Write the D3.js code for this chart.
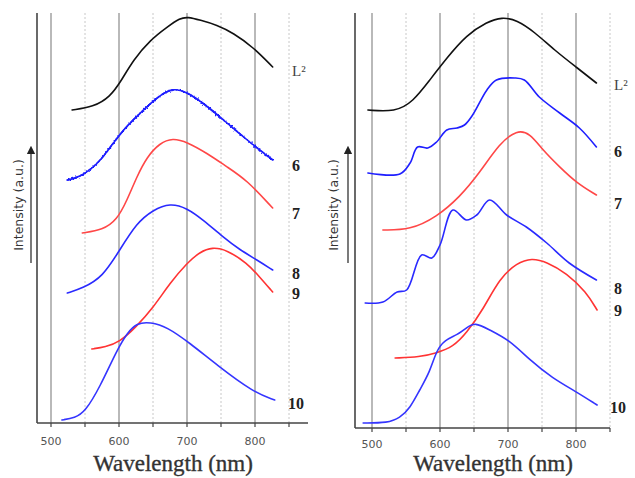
<!DOCTYPE html>
<html lang="en">
<head>
<meta charset="UTF-8">
<title>Emission spectra</title>
<style>
  body { margin: 0; background: #fff; }
  .grid line.major { stroke: #a8a8a8; stroke-width: 1.6; }
  .grid line.minor { stroke: #c8c8c8; stroke-width: 1; stroke-dasharray: 2,2; }
  .axis path, .axis line { stroke: #444; stroke-width: 1.6; fill: none; }
  .axis text { font: 11px "DejaVu Sans", sans-serif; fill: #555; }
  .title { font: 23px "Liberation Serif", serif; fill: #333; stroke: #333; stroke-width: 0.35; }
  .ylab { font: 12.5px "DejaVu Sans", sans-serif; fill: #333; }
  .curve { fill: none; stroke-width: 1.6; stroke-linejoin: round; stroke-linecap: round; }
  .lab { font: bold 16px "Liberation Serif", serif; fill: #222; }
  .lab.l2 { font-weight: normal; font-size: 15px; fill: #444; }
</style>
</head>
<body>
<svg width="635" height="478"></svg>
<script src="https://d3js.org/d3.v7.min.js"></script>
<script>
// x ticks (nm)
var majorTicks = [500, 600, 700, 800];
var minorTicks = [550, 650, 750, 850];
var seriesNames = ["L²", "6", "7", "8", "9", "10"];

// left panel spectra: [wavelength nm, intensity a.u.]
var leftL2 = [[531,31.3],[562,31.6],[587,32.6],[604,34.3],[621,36.3],[646,38.3],[671,39.6],[690,40.5],[701,40.6],[719,40.3],[744,39.8],[768,39.0],[797,37.6],[826,35.6]];
var left6  = [[524,24.3],[543,24.6],[572,26.0],[601,29.0],[631,31.0],[660,32.8],[679,33.5],[700,33.1],[724,32.0],[759,30.0],[788,28.3],[826,26.3]];
var left7  = [[546,19.0],[576,19.3],[597,20.3],[612,22.3],[626,24.6],[641,26.6],[660,28.0],[679,28.5],[700,28.1],[729,27.0],[759,25.6],[788,24.3],[826,21.5]];
var left8  = [[524,13.0],[547,13.5],[576,14.6],[601,17.3],[626,20.0],[650,21.3],[675,22.0],[700,21.5],[724,20.3],[753,18.6],[778,17.3],[803,16.3],[826,15.3]];
var left9  = [[560,7.4],[580,7.6],[601,8.1],[625,9.6],[650,11.5],[675,14.0],[700,16.0],[719,17.1],[737,17.6],[759,17.3],[788,16.0],[807,14.6],[826,13.1]];
var left10 = [[516,0.3],[535,0.5],[550,1.1],[572,3.6],[597,7.3],[612,9.0],[626,10.0],[646,10.1],[671,9.6],[704,8.0],[744,5.8],[797,3.1],[829,2.3]];

// right panel spectra
var rightL2 = [[494,31.8],[534,31.6],[560,32.6],[585,34.8],[610,37.0],[639,39.3],[669,40.6],[691,41.1],[713,40.8],[739,39.6],[768,37.8],[802,36.0],[830,34.5]];
var right6  = [[494,25.5],[541,25.4],[556,26.5],[567,28.1],[582,28.0],[595,28.6],[610,29.8],[625,30.0],[636,30.3],[648,31.3],[669,33.8],[683,34.8],[710,35.0],[724,34.8],[746,33.1],[776,31.5],[805,30.0],[830,28.1]];
var right7  = [[516,19.8],[556,19.8],[595,21.1],[629,23.1],[658,25.5],[688,28.5],[713,29.8],[732,29.5],[751,27.8],[776,26.1],[801,24.5],[830,23.3]];
var right8  = [[490,12.5],[516,12.6],[537,13.6],[551,13.8],[573,17.3],[588,17.0],[600,18.3],[619,21.8],[639,20.8],[654,21.3],[673,22.8],[698,21.3],[727,20.1],[757,18.5],[790,16.5],[830,14.8]];
var right9  = [[534,7.0],[570,7.1],[595,7.5],[619,8.1],[639,9.5],[663,11.8],[688,15.0],[713,16.5],[735,17.0],[757,16.6],[786,15.5],[815,13.6],[831,11.8]];
var right10 = [[487,0.5],[523,0.5],[541,1.0],[556,2.0],[570,3.8],[585,5.6],[595,7.8],[607,8.8],[625,9.3],[639,10.0],[651,10.6],[673,9.8],[702,8.8],[732,6.8],[765,5.0],[801,3.6],[831,2.3]];

var colors = ["#111", "#1f1fff", "#ff4747", "#2a2aff", "#ff3333", "#3535ff"];

var svg = d3.select("svg");

var panels = [
    {series:[leftL2,left6,left7,left8,left9,left10], ax:37, x0:51, x1:255, yb:423, yt:13, ymax:41, xend:308,
     labY:[70,165,213,273,293,403], labX:290, arrowX:31, ylabX:18, titleX:173, tickY:445, noisy:1},
    {series:[rightL2,right6,right7,right8,right9,right10], ax:355, x0:372, x1:576, yb:428, yt:13, ymax:41.5, xend:610,
     labY:[84,151,203,288,310,407], labX:612, arrowX:348, ylabX:333, titleX:493, tickY:448, noisy:-1, sharp:[1,3]}
];

var defs = svg.append("defs");
defs.append("marker")
    .attr("id", "arr").attr("viewBox", "0 0 8 8").attr("refX", 4).attr("refY", 4)
    .attr("markerWidth", 7).attr("markerHeight", 7).attr("orient", "auto")
  .append("path").attr("d", "M0,0 L8,4 L0,8 z").attr("fill", "#222");
// rough edge for the noisy spectrum
var rough = defs.append("filter").attr("id", "rough")
    .attr("x", "-5%").attr("y", "-5%").attr("width", "110%").attr("height", "110%");
rough.append("feTurbulence").attr("type", "fractalNoise").attr("baseFrequency", 0.6)
    .attr("numOctaves", 1).attr("seed", 3).attr("result", "n");
rough.append("feDisplacementMap").attr("in", "SourceGraphic").attr("in2", "n")
    .attr("scale", 4).attr("xChannelSelector", "R").attr("yChannelSelector", "G");

panels.forEach(function(p){
    var x = d3.scaleLinear().domain([500, 800]).range([p.x0, p.x1]);
    var y = d3.scaleLinear().domain([0, p.ymax]).range([p.yb, p.yt]);
    var g = svg.append("g");

    // grid
    var grid = g.append("g").attr("class", "grid");
    grid.selectAll(".major").data(majorTicks).enter().append("line")
        .attr("class", "major")
        .attr("x1", function(d){ return x(d); }).attr("x2", function(d){ return x(d); })
        .attr("y1", p.yt).attr("y2", p.yb);
    grid.selectAll(".minor").data(minorTicks).enter().append("line")
        .attr("class", "minor")
        .attr("x1", function(d){ return x(d); }).attr("x2", function(d){ return x(d); })
        .attr("y1", p.yt).attr("y2", p.yb);

    // axes
    var axis = g.append("g").attr("class", "axis");
    axis.append("line").attr("x1", p.ax).attr("x2", p.ax).attr("y1", p.yt).attr("y2", p.yb);
    axis.append("line").attr("x1", p.ax).attr("x2", p.xend).attr("y1", p.yb).attr("y2", p.yb);
    axis.selectAll(".tk").data(majorTicks.concat(minorTicks)).enter().append("line")
        .attr("x1", function(d){ return x(d); }).attr("x2", function(d){ return x(d); })
        .attr("y1", p.yb).attr("y2", p.yb + 4).style("stroke-width", 1.2);
    axis.selectAll("text").data(majorTicks).enter().append("text")
        .attr("x", function(d){ return x(d); }).attr("y", p.tickY)
        .attr("text-anchor", "middle")
        .text(function(d){ return d; });

    g.append("text").attr("class", "title")
        .attr("x", p.titleX).attr("y", 471)
        .attr("text-anchor", "middle").text("Wavelength (nm)");

    // y label + arrow
    g.append("text").attr("class", "ylab")
        .attr("transform", "translate(" + (p.ylabX + 5) + ",205) rotate(-90)")
        .attr("text-anchor", "middle").text("Intensity (a.u.)");
    g.append("line").attr("x1", p.arrowX).attr("x2", p.arrowX)
        .attr("y1", 263).attr("y2", 150)
        .attr("stroke", "#222").attr("stroke-width", 1.2)
        .attr("marker-end", "url(#arr)");

    // curves (smooth; the structured ones keep their bumps)
    var smooth = d3.line()
        .x(function(d){ return x(d[0]); })
        .y(function(d){ return y(d[1]); })
        .curve(d3.curveBasis);
    var sharp = d3.line()
        .x(function(d){ return x(d[0]); })
        .y(function(d){ return y(d[1]); })
        .curve(d3.curveCatmullRom.alpha(0.5));
    var isSharp = function(i){ return p.sharp && p.sharp.indexOf(i) >= 0; };

    g.selectAll(".curve").data(p.series).enter().append("path")
        .attr("class", "curve")
        .attr("d", function(d, i){ return isSharp(i) ? sharp(d) : smooth(d); })
        .attr("stroke", function(d, i){ return colors[i]; })
        .attr("stroke-width", function(d, i){ return (i == 1 && p.noisy > 0) ? 4.4 : 1.6; });

    if (p.noisy > 0) {
        g.append("path").datum(p.series[1])
            .attr("class", "curve")
            .attr("d", smooth)
            .attr("stroke", colors[1])
            .attr("stroke-width", 3.5)
            .attr("filter", "url(#rough)");
    }

    // series labels
    g.selectAll(".lab").data(seriesNames).enter().append("text")
        .attr("class", function(d, i){ return i == 0 ? "lab l2" : "lab"; })
        .attr("x", function(d, i){ return p.labX + (i == 5 ? -2 : 2); })
        .attr("y", function(d, i){ return p.labY[i] + 6; })
        .text(function(d){ return d; });
});
</script>
</body>
</html>
